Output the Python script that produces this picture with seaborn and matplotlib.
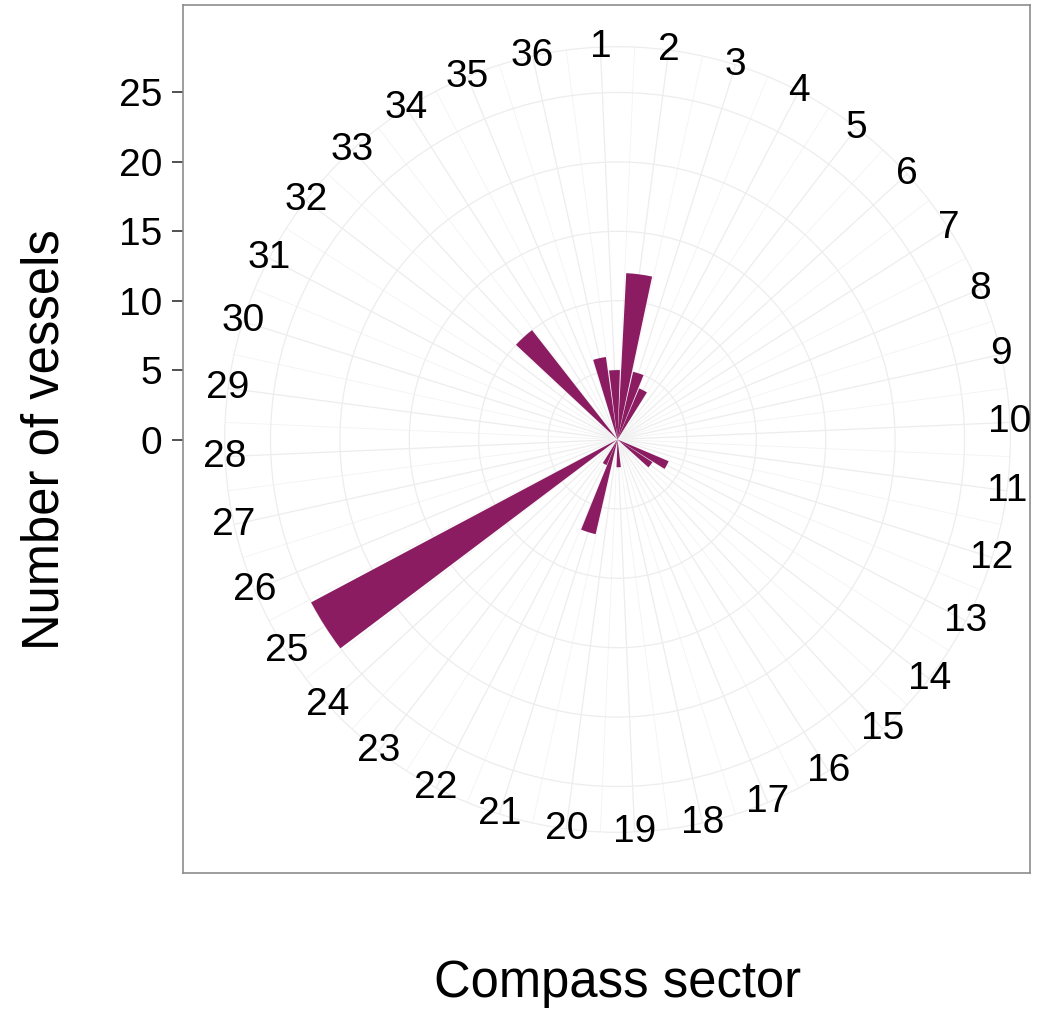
import numpy as np
import pandas as pd
import matplotlib
matplotlib.use("Agg")
import matplotlib.pyplot as plt
import seaborn as sns

# vessels counted per 10-degree compass sector
sectors = list(range(1, 37))
vessels = [5, 12, 5, 4, 0, 0, 0, 0, 0, 0, 0, 0,
           4, 3, 0, 0, 0, 0, 2, 0, 7, 2, 0, 0,
           25, 0, 0, 0, 0, 0, 0, 0, 10, 0, 0, 6]
r_ticks = [0, 5, 10, 15, 20, 25]
bar_colour = "#8B1C62"

sns.set_theme(style="white")
plt.rcParams['font.family'] = ['Liberation Sans', 'DejaVu Sans']
plt.rcParams['text.color'] = 'black'

df = pd.DataFrame({"sector": sectors, "vessels": vessels})
df["theta"] = np.deg2rad((df["sector"] - 1) * 10 - 2.5)

W, H = 1037, 1009
cx, cy = 617.5, 439.5      # centre of the polar plot in pixels
ppu = 13.88                # pixels per vessel
r_out = 28.3               # outer grid circle

fig = plt.figure(figsize=(W / 100, H / 100), dpi=100)

# rectangular panel carrying the left axis
pl, pr, pt, pb = 183, 1030, 5, 873
ax = fig.add_axes([pl / W, 1 - pb / H, (pr - pl) / W, (pb - pt) / H])
ax.set_xlim((pl - cx) / ppu, (pr - cx) / ppu)
ax.set_ylim((cy - pb) / ppu, (cy - pt) / ppu)
ax.set_facecolor("white")
ax.set_xticks([])
ax.set_yticks(r_ticks)
ax.set_yticklabels([str(t) for t in r_ticks], fontsize=28, color="black")
ax.tick_params(axis="y", left=True, direction="out", length=8, width=1.2,
               color="#333333", pad=7)
for s in ax.spines.values():
    s.set_color("#8c8c8c")
    s.set_linewidth(1.2)

# polar axes on top
R = r_out * ppu
pax = fig.add_axes([(cx - R) / W, 1 - (cy + R) / H, 2 * R / W, 2 * R / H],
                   projection="polar")
pax.patch.set_alpha(0)
pax.set_theta_zero_location("N")
pax.set_theta_direction(-1)

sns.barplot(data=df, x="theta", y="vessels", native_scale=True, width=0.9,
            color=bar_colour, saturation=1, linewidth=0, ax=pax, zorder=3)

pax.set_xlim(0, 2 * np.pi)
pax.set_ylim(0, r_out)
pax.set_xlabel("")
pax.set_ylabel("")
major = np.deg2rad(np.arange(36) * 10 - 2.5) % (2 * np.pi)
minor = np.deg2rad(np.arange(36) * 10 + 2.5)
pax.set_xticks(major)
pax.set_xticks(minor, minor=True)
pax.set_xticklabels([])
pax.set_yticks(r_ticks[1:])
pax.set_yticklabels([])
pax.tick_params(axis="both", length=0)
pax.grid(True, which="major", color="#EDEDED", linewidth=0.9)
pax.xaxis.grid(True, which="minor", color="#F3F3F3", linewidth=0.6)
pax.set_axisbelow(True)
pax.spines["polar"].set_color("#EDEDED")
pax.spines["polar"].set_linewidth(0.9)

for th, lab in zip(df["theta"], df["sector"]):
    pax.text(th, r_out, str(lab), ha="center", va="center", fontsize=28,
             color="black")

fig.text(cx / W, 1 - 997 / H, "Compass sector", ha="center", va="baseline",
         fontsize=36.5, color="black")
fig.text(45 / W, 1 - cy / H, "Number of vessels", ha="center", va="center",
         rotation=90, fontsize=36.5, color="black")

fig.savefig("out.png", dpi=100)
